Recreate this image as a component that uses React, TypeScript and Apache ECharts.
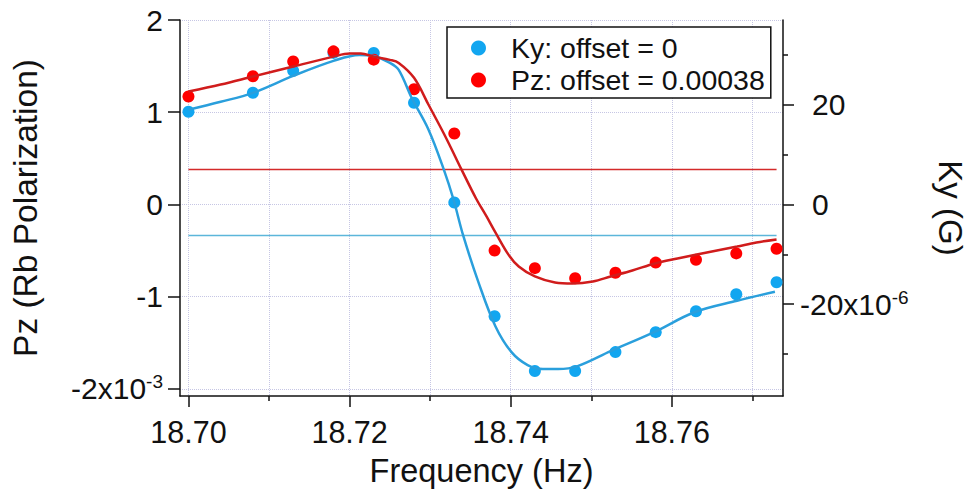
import React, { useEffect, useRef } from "react";
import * as echarts from "echarts";

// Measured drive frequencies (Hz)
const freqPoints = [
  18.7, 18.708, 18.713, 18.718, 18.723, 18.728, 18.733, 18.738, 18.743, 18.748,
  18.753, 18.758, 18.763, 18.768, 18.773,
];
// Pz response (x1e-3), offset-shifted
const pzPoints = [
  1.17, 1.39, 1.55, 1.66, 1.57, 1.25, 0.77, -0.5, -0.69, -0.8, -0.74, -0.63,
  -0.6, -0.53, -0.48,
];
// Ky response (x1e-6)
const kyPoints = [
  18.6, 22.4, 26.8, 30.4, 30.4, 20.4, 0.4, -22.4, -33.4, -33.4, -29.6, -25.6,
  -21.4, -18.0, -15.6,
];

// Fitted Pz curve
const pzFitFreq = [
  18.7, 18.704, 18.708, 18.713, 18.718, 18.72, 18.7214, 18.723, 18.725, 18.7261,
  18.728, 18.7298, 18.7319, 18.7339, 18.7357, 18.737, 18.7381, 18.7397, 18.741,
  18.743, 18.7455, 18.7477, 18.7502, 18.7524, 18.7551, 18.7579, 18.7607, 18.7631,
  18.7656, 18.7681, 18.7705, 18.773,
];
const pzFitValues = [
  1.224, 1.3, 1.387, 1.495, 1.603, 1.636, 1.636, 1.603, 1.568, 1.535, 1.373,
  1.081, 0.735, 0.378, 0.065, -0.13, -0.303, -0.541, -0.672, -0.78, -0.845,
  -0.856, -0.834, -0.78, -0.715, -0.639, -0.585, -0.542, -0.498, -0.455, -0.412,
  -0.379,
];

// Fitted Ky curve
const kyFitFreq = [
  18.7, 18.704, 18.708, 18.713, 18.718, 18.7212, 18.723, 18.725, 18.7261,
  18.7277, 18.7298, 18.7317, 18.7329, 18.7341, 18.736, 18.7381, 18.7401,
  18.7421, 18.744, 18.7459, 18.7483, 18.7524, 18.7578, 18.7628, 18.7681,
  18.7728,
];
const kyFitValues = [
  19.0, 20.6, 22.4, 25.8, 28.8, 30.0, 29.8, 28.4, 27.0, 21.4, 15.0, 7.0, 1.0,
  -6.2, -15.6, -24.4, -29.6, -32.2, -33.0, -33.0, -32.4, -29.4, -25.6, -21.6,
  -19.3, -17.5,
];

// Reference levels
const pzOffsetLevel = 0.38; // x1e-3
const kyBaseLevel = -6.2; // x1e-6
const levelSpan = [18.7, 18.773];

// Axis ticks
const freqMajorTicks = [18.7, 18.72, 18.74, 18.76];
const freqMinorTicks = [18.71, 18.73, 18.75, 18.77];
const pzTicks = [-2, -1, 0, 1, 2];
const kyMajorTicks = [-20, 0, 20];
const kyMinorTicks = [-30, -10, 10, 30];

const kyName = "Ky: offset = 0";
const pzName = "Pz: offset = 0.00038";

const FONT = "'Liberation Sans', Arial, sans-serif";
const INK = "#111";
const GRID_COLOR = "#c6c6e4";

const pair = (xs: number[], ys: number[]) => xs.map((x, i) => [x, ys[i]]);

export default function App() {
  const ref = useRef<HTMLDivElement>(null);

  useEffect(() => {
    if (!ref.current) return;
    const chart = echarts.init(ref.current, null, { renderer: "svg" });

    const axisLine = { show: true, onZero: false, lineStyle: { color: INK, width: 1.5 } };
    const gridLine = { show: true, lineStyle: { type: "dotted", color: GRID_COLOR, width: 1 } };
    const supRich = {
      b: { fontSize: 30, fontFamily: FONT, color: INK },
      s: { fontSize: 19, fontFamily: FONT, color: INK, verticalAlign: "top", padding: [0, 0, 14, 0] },
      p: { fontSize: 30, fontFamily: FONT, color: INK, padding: [0, 0, 0, 12] },
    };

    chart.setOption({
      animation: false,
      backgroundColor: "#fff",
      grid: { left: 180, right: 188, top: 20, bottom: 95, containLabel: false },
      legend: {
        data: [kyName, pzName],
        orient: "vertical",
        left: 447,
        top: 27,
        padding: [5, 6, 2, 24],
        itemGap: 0,
        itemWidth: 15,
        itemHeight: 15,
        backgroundColor: "#fff",
        borderColor: INK,
        borderWidth: 1.5,
        borderRadius: 0,
        textStyle: {
          fontSize: 28.5,
          fontFamily: FONT,
          color: INK,
          lineHeight: 32,
          padding: [0, 0, 0, 20],
        },
      },
      xAxis: [
        {
          type: "value",
          min: 18.69895,
          max: 18.7738,
          position: "bottom",
          axisLine,
          axisTick: { show: true, customValues: freqMajorTicks, length: 11, lineStyle: { color: INK, width: 1.5 } },
          axisLabel: {
            customValues: freqMajorTicks,
            margin: 20,
            fontSize: 30.5,
            fontFamily: FONT,
            color: INK,
            formatter: (v: number) => v.toFixed(2),
          },
          splitLine: gridLine,
          name: "Frequency (Hz)",
          nameLocation: "middle",
          nameGap: 58,
          nameTextStyle: { fontSize: 32.5, fontFamily: FONT, color: INK },
        },
        {
          type: "value",
          min: 18.69895,
          max: 18.7738,
          position: "bottom",
          axisLine: { show: false, onZero: false },
          axisTick: { show: true, customValues: freqMinorTicks, length: 5, lineStyle: { color: INK, width: 1.5 } },
          axisLabel: { show: false },
          splitLine: gridLine,
        },
      ],
      yAxis: [
        {
          type: "value",
          position: "left",
          min: -2.076,
          max: 2,
          axisLine,
          axisTick: { show: true, customValues: pzTicks, length: 12, lineStyle: { color: INK, width: 1.5 } },
          axisLabel: {
            customValues: pzTicks,
            margin: 17,
            formatter: (v: number) => (v === -2 ? "{b|-2x10}{s|-3}" : `{b|${v}}`),
            rich: supRich,
          },
          splitLine: gridLine,
          name: "Pz (Rb Polarization)",
          nameLocation: "middle",
          nameRotate: 90,
          nameGap: 138,
          nameTextStyle: { fontSize: 33.5, fontFamily: FONT, color: INK },
        },
        {
          type: "value",
          position: "right",
          min: -38.4,
          max: 37,
          axisLine,
          axisTick: { show: true, customValues: kyMajorTicks, length: 11, lineStyle: { color: INK, width: 1.5 } },
          axisLabel: {
            customValues: kyMajorTicks,
            margin: 17,
            formatter: (v: number) => (v < 0 ? `{b|${v}x10}{s|-6}` : `{p|${v}}`),
            rich: supRich,
          },
          splitLine: { show: false },
          name: "Ky (G)",
          nameLocation: "middle",
          nameRotate: -90,
          nameGap: 151,
          nameTextStyle: { fontSize: 33, fontFamily: FONT, color: INK },
        },
        {
          type: "value",
          position: "right",
          min: -38.4,
          max: 37,
          axisLine: { show: false, onZero: false },
          axisTick: { show: true, customValues: kyMinorTicks, length: 5, lineStyle: { color: INK, width: 1.5 } },
          axisLabel: { show: false },
          splitLine: { show: false },
        },
      ],
      series: [
        {
          name: "pz-offset",
          type: "line",
          xAxisIndex: 0,
          yAxisIndex: 0,
          data: levelSpan.map((x) => [x, pzOffsetLevel]),
          showSymbol: false,
          silent: true,
          lineStyle: { color: "#d42a2a", width: 1.5 },
        },
        {
          name: "ky-base",
          type: "line",
          xAxisIndex: 0,
          yAxisIndex: 1,
          data: levelSpan.map((x) => [x, kyBaseLevel]),
          showSymbol: false,
          silent: true,
          lineStyle: { color: "#5cb6da", width: 1.5 },
        },
        {
          name: "ky-fit",
          type: "line",
          xAxisIndex: 0,
          yAxisIndex: 1,
          data: pair(kyFitFreq, kyFitValues),
          smooth: 0.35,
          showSymbol: false,
          silent: true,
          lineStyle: { color: "#2a9fdc", width: 2.5 },
        },
        {
          name: "pz-fit",
          type: "line",
          xAxisIndex: 0,
          yAxisIndex: 0,
          data: pair(pzFitFreq, pzFitValues),
          smooth: 0.35,
          showSymbol: false,
          silent: true,
          lineStyle: { color: "#d01c1c", width: 2.5 },
        },
        {
          name: kyName,
          type: "scatter",
          xAxisIndex: 0,
          yAxisIndex: 1,
          data: pair(freqPoints, kyPoints),
          symbol: "circle",
          symbolSize: 12,
          itemStyle: { color: "#12a6f0", opacity: 1 },
        },
        {
          name: pzName,
          type: "scatter",
          xAxisIndex: 0,
          yAxisIndex: 0,
          data: pair(freqPoints, pzPoints),
          symbol: "circle",
          symbolSize: 12,
          itemStyle: { color: "#ff0000", opacity: 1 },
        },
      ],
    });

    return () => chart.dispose();
  }, []);

  return (
    <div
      ref={ref}
      style={{ position: "fixed", left: 0, top: 0, width: 975, height: 492, background: "#fff" }}
    />
  );
}
